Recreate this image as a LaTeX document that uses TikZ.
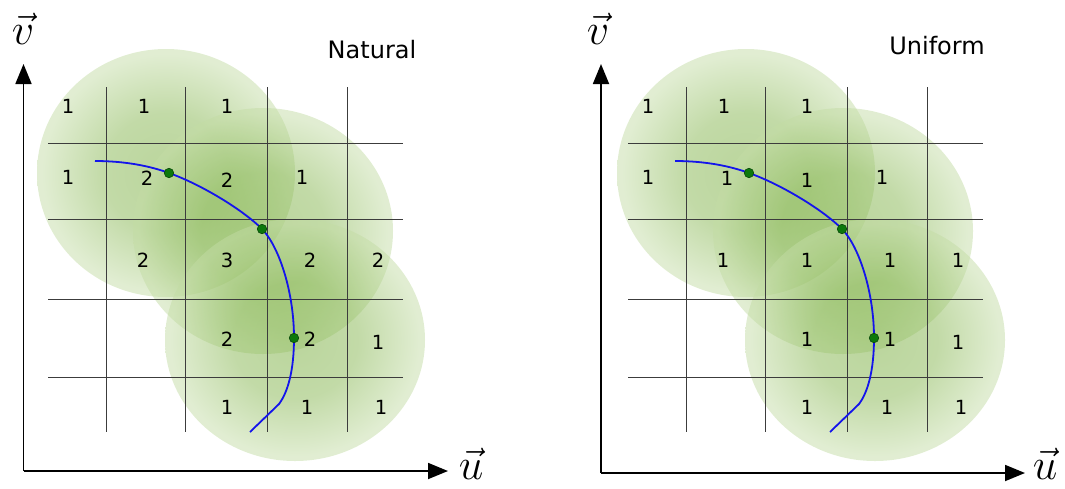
\RequirePackage{fix-cm}
\documentclass[tikz,border=0pt]{standalone}
\usepackage{fontspec}
\newfontfamily\dv{DejaVu Sans}
\usetikzlibrary{arrows.meta}
\definecolor{gin}{RGB}{118,172,58}
\definecolor{gout}{RGB}{195,220,165}
\definecolor{gridc}{RGB}{60,60,60}
\definecolor{curvec}{RGB}{20,20,235}
\definecolor{dotc}{RGB}{12,120,12}
\pgfdeclareradialshading{blob}{\pgfpoint{0bp}{0bp}}{color(0bp)=(gin); color(12bp)=(gin!80!gout); color(24bp)=(gout); color(25bp)=(gout); color(50bp)=(gout)}
\newcommand\drawpanel[2]{%
\begin{scope}[xshift=#1pt]
  \coordinate (#2c1) at (166,173);
  \coordinate (#2c2) at (263,231);
  \coordinate (#2c3) at (295,340);
  \shade[blobfill] (#2c1) ellipse [x radius=129pt, y radius=124pt];
  \shade[blobfill] (#2c2) ellipse [x radius=130pt, y radius=123pt];
  \shade[blobfill] (#2c3) ellipse [x radius=130pt, y radius=121pt];
  \foreach \yy in {143,219,299,377} \draw[gridline] (48,\yy) -- (403,\yy);
  \foreach \xx in {106,185,267,347} \draw[gridline] (\xx,87) -- (\xx,432);
  \coordinate (#2s) at (95,161);
  \coordinate (#2d1) at (169,173);
  \coordinate (#2d2) at (262,229);
  \coordinate (#2d3) at (294,338);
  \coordinate (#2k) at (279,404);
  \coordinate (#2t) at (250,432);
  \draw[curve] (#2s) .. controls +(30,0) and +(-19,-7) .. (#2d1)
     .. controls +(31,11) and +(-20,-20) .. (#2d2)
     .. controls +(16,16) and +(0,-48) .. (#2d3)
     .. controls +(0,32) and +(9,-12) .. (#2k) -- (#2t);
  \node[dot] (#2p1) at (#2d1) {};
  \node[dot] (#2p2) at (#2d2) {};
  \node[dot] (#2p3) at (#2d3) {};
\end{scope}}
\newcommand\celllist{68/106/1/1, 144/106/1/1, 227/106/1/1,
  68/177/1/1, 147/178/2/1, 227/180/2/1, 302/177/1/1,
  143/260/2/1, 227/260/3/1, 310/260/2/1, 378/260/2/1,
  227/339/2/1, 310/339/2/1, 378/342/1/1,
  227/407/1/1, 307/407/1/1, 381/407/1/1}
\begin{document}
\begin{tikzpicture}[x=1pt,y=-1pt,
  gridline/.style={draw=gridc,line width=1pt},
  axis/.style={line width=1.8pt,-{Triangle[length=20pt,width=16pt]}},
  curve/.style={draw=curvec,line width=1.8pt},
  dot/.style={circle,fill=dotc,draw=dotc!60!black,line width=0.6pt,minimum size=9.5pt,inner sep=0pt},
  cell/.style={font=\dv\fontsize{19.5}{21}\selectfont,inner sep=0pt},
  title/.style={font=\dv\fontsize{24}{28}\selectfont,inner sep=0pt},
  axlabel/.style={font=\fontsize{44}{48}\selectfont,inner sep=0pt,text depth=0pt},
  blobfill/.style={shading=blob,opacity=0.5}]
\useasboundingbox (0,0) rectangle (1065,488);
\drawpanel{0}{L}
\drawpanel{580}{R}
% cell numbers
\foreach \x/\y/\a/\b in \celllist {
  \node[cell] (nl\x-\y) at (\x,\y) {\a};
  \node[cell] (nr\x-\y) at (\x+580,\y) {\b};
}
% axes
\coordinate (LO) at (23.5,471);
\coordinate (LV) at (23.5,64);
\coordinate (LU) at (448,471);
\draw[axis] (LO) -- (LV);
\draw[axis] (LO) -- (LU);
\coordinate (RO) at (601,473);
\coordinate (RV) at (601,64);
\coordinate (RU) at (1025,473);
\draw[axis] (RO) -- (RV);
\draw[axis] (RO) -- (RU);
\node[axlabel,anchor=south] (lv) at (23,45) {$\vec{v}$};
\node[axlabel,anchor=south] (lu) at (471,480) {$\vec{u}$};
\node[axlabel,anchor=south] (rv) at (598,45) {$\vec{v}$};
\node[axlabel,anchor=south] (ru) at (1045,480) {$\vec{u}$};
\node[title] (tl) at (372,50) {Natural};
\node[title] (tr) at (937,46) {Uniform};
\end{tikzpicture}
\end{document}
